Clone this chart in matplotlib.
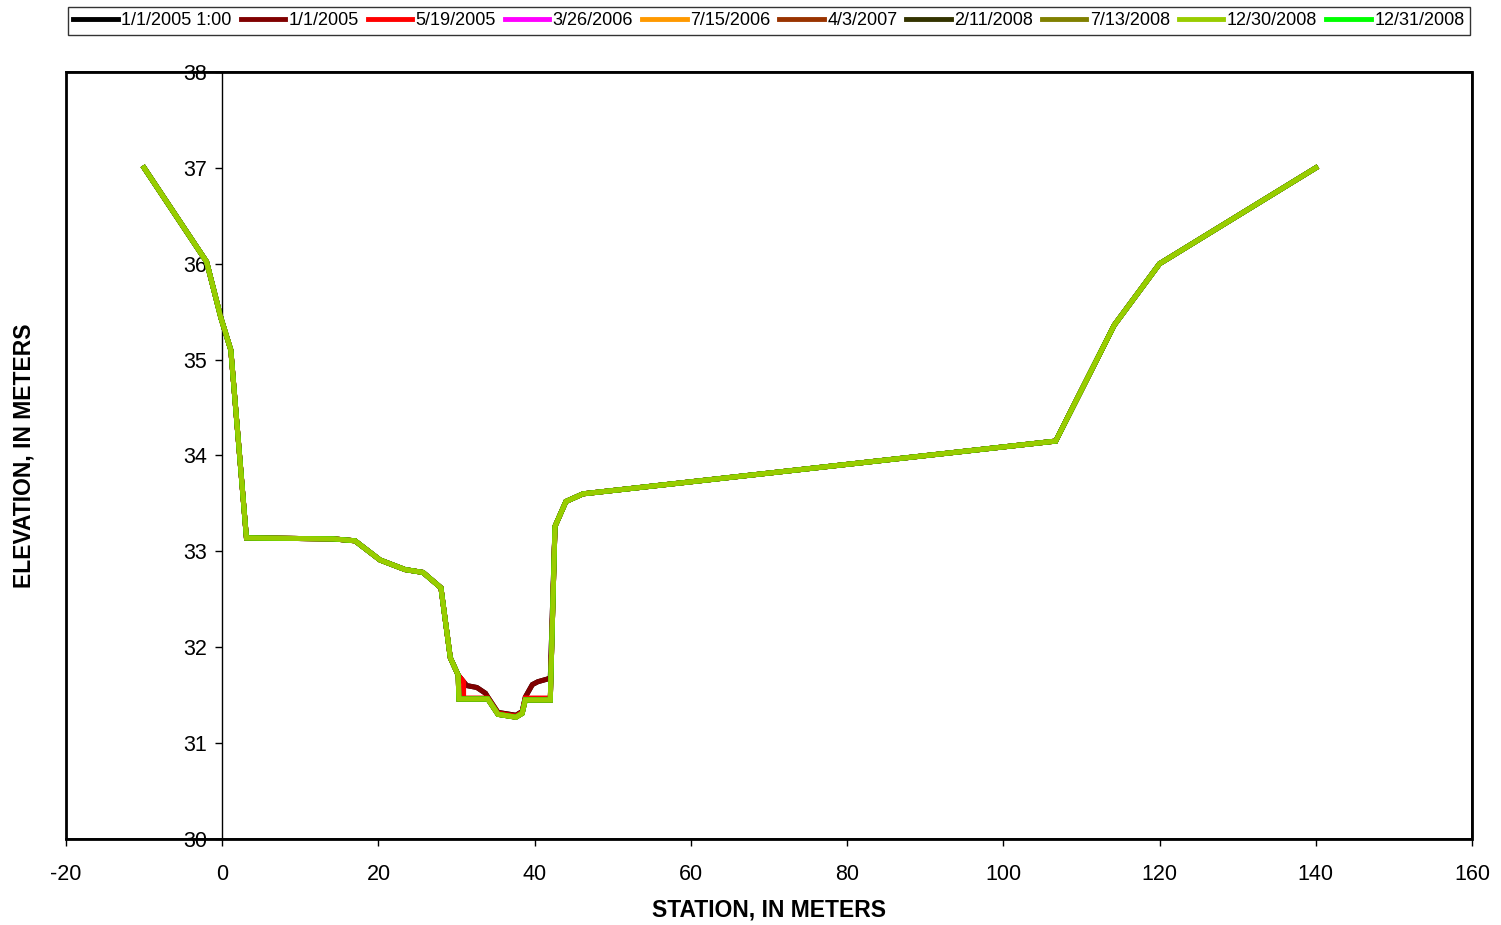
import matplotlib
matplotlib.use('Agg')
import matplotlib.pyplot as plt
from matplotlib.patches import Rectangle

plt.rcParams['font.family'] = ['Liberation Sans', 'DejaVu Sans']
plt.rcParams['axes.unicode_minus'] = False

# cross-section survey, station (m) vs elevation (m)
# banks are the same for every survey
left_station = [-10, -2, -0.15, 1.1, 3.1, 14.2, 17.0, 20.2, 23.4, 25.7, 28.0, 29.2, 30.2]
left_elev = [37.0, 36.02, 35.43, 35.10, 33.14, 33.13, 33.11, 32.91, 32.81, 32.78, 32.62, 31.89, 31.71]
right_station = [42.6, 44.0, 46.2, 106.7, 114.2, 120.0, 140.0]
right_elev = [33.26, 33.52, 33.60, 34.15, 35.36, 36.0, 37.0]

# channel bottom, differs between surveys
chan_station_2005 = [31.3, 32.6, 33.7, 34.0, 35.3, 37.6, 38.4, 38.8, 39.7, 40.4, 41.7, 42.0]
chan_elev_2005 = [31.60, 31.58, 31.52, 31.48, 31.32, 31.29, 31.33, 31.48, 31.61, 31.64, 31.67, 31.68]
chan_station_may2005 = [30.9, 30.9, 34.0, 35.3, 37.6, 38.4, 38.8, 42.0]
chan_elev_may2005 = [31.64, 31.47, 31.47, 31.31, 31.28, 31.32, 31.47, 31.47]
chan_station_later = [30.3, 34.0, 35.3, 37.6, 38.4, 38.8, 42.0]
chan_elev_later = [31.46, 31.46, 31.30, 31.27, 31.31, 31.45, 31.45]

dates = ['1/1/2005 1:00', '1/1/2005', '5/19/2005', '3/26/2006', '7/15/2006',
         '4/3/2007', '2/11/2008', '7/13/2008', '12/30/2008', '12/31/2008']
colors = ['#000000', '#800000', '#FF0000', '#FF00FF', '#FF9900',
          '#993300', '#333300', '#808000', '#99CC00', '#00FF00']
channel = {'1/1/2005 1:00': (chan_station_2005, chan_elev_2005),
           '1/1/2005': (chan_station_2005, chan_elev_2005),
           '5/19/2005': (chan_station_may2005, chan_elev_may2005)}

fig = plt.figure(figsize=(15.01, 9.25), dpi=100)
ax = fig.add_axes([0.04397, 0.0930, 0.93673, 0.8292])

for d, c in zip(dates, colors):
    cs, ce = channel.get(d, (chan_station_later, chan_elev_later))
    xs = left_station + cs + right_station
    ys = left_elev + ce + right_elev
    z = 5 if d == '12/30/2008' else 2
    ax.plot(xs, ys, color=c, lw=3.6, label=d, zorder=z, solid_joinstyle='miter')

ax.set_xlim(-20, 160)
ax.set_ylim(30, 38)
ax.set_xticks(range(-20, 161, 20))
ax.set_yticks(range(30, 39))

# y axis crosses at station 0, plot area has its own border
ax.spines['left'].set_position(('data', 0))
for s in ['right', 'top', 'bottom']:
    ax.spines[s].set_linewidth(1.2)
ax.spines['left'].set_linewidth(1.0)
ax.add_patch(Rectangle((0, 0), 1, 1, transform=ax.transAxes, fill=False,
                       lw=2.0, edgecolor='black', zorder=6, clip_on=False))
ax.tick_params(axis='both', direction='out', length=5, width=1, labelsize=15.5, colors='black')
ax.tick_params(axis='x', pad=13)
ax.tick_params(axis='y', pad=6)

ax.set_xlabel('STATION, IN METERS', fontsize=16.5, fontweight='bold', labelpad=10)
ax.set_ylabel('ELEVATION, IN METERS', fontsize=16.5, fontweight='bold')
ax.yaxis.set_label_coords(36 / 1501, 1 - 455.5 / 925, transform=fig.transFigure)

leg = fig.legend(loc='upper center', bbox_to_anchor=(0.5123, 0.9924), ncol=10,
                 fontsize=13, frameon=True, fancybox=False, edgecolor='black',
                 handlelength=2.45, handletextpad=0.2, columnspacing=0.5,
                 borderpad=0.3, borderaxespad=0)
leg.get_frame().set_linewidth(1.0)
for h in leg.get_lines():
    h.set_linewidth(3.5)

fig.savefig('out.png', dpi=100)
